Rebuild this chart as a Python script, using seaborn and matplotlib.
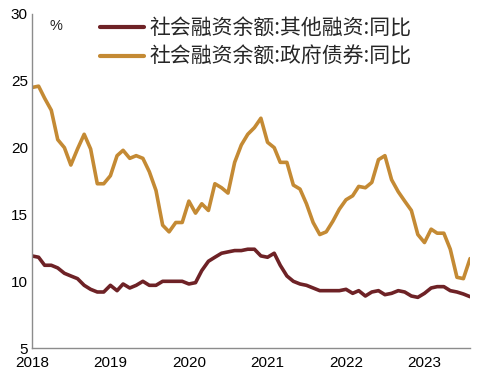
import numpy as np
import pandas as pd
import matplotlib
matplotlib.use("Agg")
import matplotlib.pyplot as plt
import matplotlib.dates as mdates
import seaborn as sns

# monthly, Jan 2018 - Aug 2023
months = pd.date_range("2018-01-01", "2023-08-01", freq="MS")

other_financing = [
    11.9, 11.8, 11.2, 11.2, 11.0, 10.6, 10.4, 10.2, 9.7, 9.4, 9.2, 9.2,
    9.7, 9.3, 9.8, 9.5, 9.7, 10.0, 9.7, 9.7, 10.0, 10.0, 10.0, 10.0,
    9.8, 9.9, 10.8, 11.5, 11.8, 12.1, 12.2, 12.3, 12.3, 12.4, 12.4, 11.9,
    11.8, 12.1, 11.2, 10.4, 10.0, 9.8, 9.7, 9.5, 9.3, 9.3, 9.3, 9.3,
    9.4, 9.1, 9.3, 8.9, 9.2, 9.3, 9.0, 9.1, 9.3, 9.2, 8.9, 8.8,
    9.1, 9.5, 9.6, 9.6, 9.3, 9.2, 9.05, 8.85,
]
gov_bonds = [
    24.5, 24.6, 23.7, 22.8, 20.6, 20.0, 18.7, 19.9, 21.0, 19.9, 17.3, 17.3,
    17.9, 19.4, 19.8, 19.2, 19.4, 19.2, 18.2, 16.8, 14.2, 13.7, 14.4, 14.4,
    16.0, 15.1, 15.8, 15.3, 17.3, 17.0, 16.6, 18.9, 20.2, 21.0, 21.5, 22.2,
    20.4, 20.0, 18.9, 18.9, 17.2, 16.9, 15.8, 14.4, 13.5, 13.7, 14.5, 15.4,
    16.1, 16.4, 17.1, 17.0, 17.4, 19.1, 19.4, 17.6, 16.7, 16.0, 15.3, 13.5,
    12.9, 13.9, 13.6, 13.6, 12.4, 10.3, 10.2, 11.7,
]
series_names = ["社会融资余额:其他融资:同比", "社会融资余额:政府债券:同比"]
colors = ["#6E2226", "#C48A34"]
year_ticks = ["2018", "2019", "2020", "2021", "2022", "2023"]

df = pd.DataFrame({"date": months, series_names[0]: other_financing,
                   series_names[1]: gov_bonds})
long_df = df.melt(id_vars="date", var_name="series", value_name="value")

sns.set_style("white")
plt.rcParams["font.family"] = ["Liberation Sans", "Noto Sans CJK SC", "DejaVu Sans"]

fig = plt.figure(figsize=(4.99, 3.78), dpi=100)
ax = fig.add_axes([0.064, 0.079, 0.878, 0.884])

sns.lineplot(data=long_df, x="date", y="value", hue="series",
             hue_order=series_names, palette=colors, linewidth=2.6, ax=ax)

ax.set_xlim(pd.Timestamp("2018-01-01"), pd.Timestamp("2023-08-01"))
ax.set_ylim(5, 30)
ax.set_yticks([5, 10, 15, 20, 25, 30])
ax.set_xticks([pd.Timestamp(f"{y}-01-01") for y in year_ticks])
ax.set_xticklabels(year_ticks)
ax.set_xlabel("")
ax.set_ylabel("")

for side in ["top", "right"]:
    ax.spines[side].set_visible(False)
for side in ["left", "bottom"]:
    ax.spines[side].set_color("#8C8C8C")
    ax.spines[side].set_linewidth(1.0)
ax.tick_params(axis="both", direction="in", length=4, width=1.0,
               color="#8C8C8C", labelsize=11, labelcolor="black", pad=3)
ax.tick_params(axis="x", pad=6)

ax.text(0.04, 0.985, "%", transform=ax.transAxes, fontsize=10.5,
        ha="left", va="top")

leg = ax.legend(loc="upper left", bbox_to_anchor=(0.137, 1.014), frameon=False,
                fontsize=15, handlelength=2.1, handletextpad=0.25,
                labelspacing=0.3, borderaxespad=0)
for t in leg.get_texts():
    t.set_family(["Noto Sans CJK SC", "DejaVu Sans"])
for h in leg.get_lines():
    h.set_linewidth(3)

fig.savefig("out.png", dpi=100)
